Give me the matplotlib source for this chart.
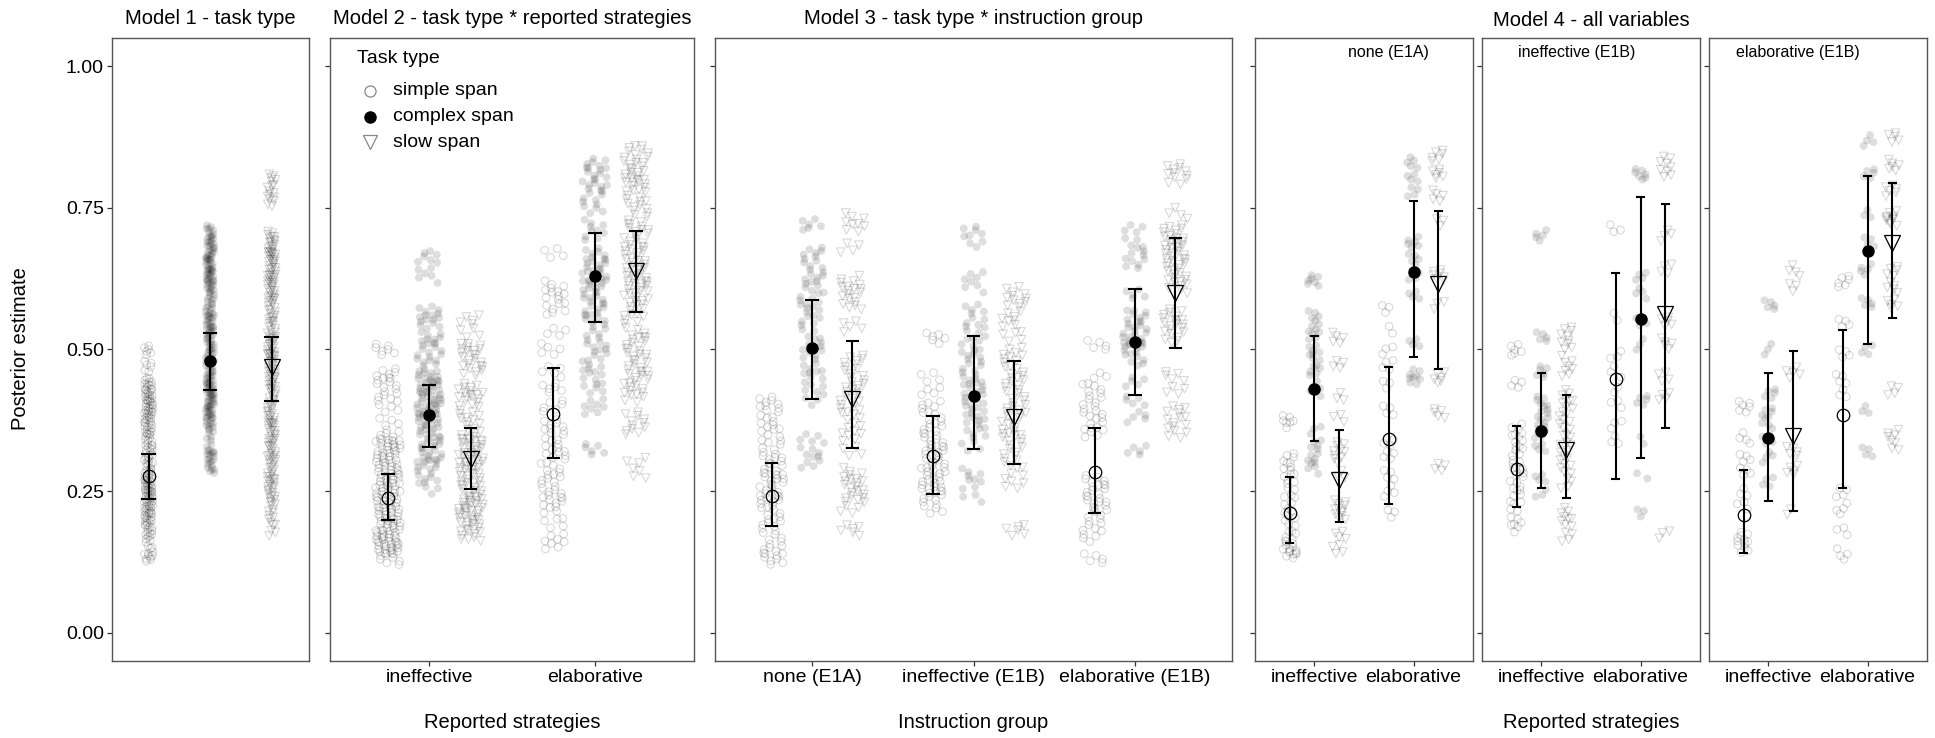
import numpy as np
import matplotlib
matplotlib.use("Agg")
import matplotlib.pyplot as plt

plt.rcParams['font.family'] = ['Liberation Sans', 'DejaVu Sans']

# ---------------- categories ----------------
TASKS = ["simple span", "complex span", "slow span"]
STRATEGIES = ["ineffective", "elaborative"]
GROUPS = ["none (E1A)", "ineffective (E1B)", "elaborative (E1B)"]
Y_TICKS = [0.00, 0.25, 0.50, 0.75, 1.00]
Y_TICK_LABELS = ["0.00", "0.25", "0.50", "0.75", "1.00"]

# ---------------- posterior summaries (mean, lower, upper) ----------------
# rows: simple, complex, slow
M1_MEAN = [0.276, 0.480, 0.469]
M1_LO = [0.236, 0.428, 0.409]
M1_HI = [0.315, 0.528, 0.522]

# rows: task; columns: ineffective, elaborative
M2_MEAN = [[0.238, 0.386], [0.385, 0.630], [0.306, 0.639]]
M2_LO = [[0.198, 0.308], [0.327, 0.549], [0.254, 0.566]]
M2_HI = [[0.280, 0.467], [0.437, 0.706], [0.361, 0.709]]

# rows: task; columns: none, ineffective, elaborative group
M3_MEAN = [[0.241, 0.312, 0.283], [0.502, 0.418, 0.513], [0.413, 0.381, 0.599]]
M3_LO = [[0.189, 0.245, 0.211], [0.412, 0.325, 0.419], [0.326, 0.297, 0.503]]
M3_HI = [[0.299, 0.383, 0.361], [0.587, 0.523, 0.606], [0.515, 0.479, 0.697]]

# Model 4, one block per instruction group; rows: task; columns: strategy
M4_NONE_MEAN = [[0.212, 0.341], [0.430, 0.636], [0.270, 0.616]]
M4_NONE_LO = [[0.159, 0.227], [0.339, 0.487], [0.195, 0.465]]
M4_NONE_HI = [[0.274, 0.469], [0.523, 0.761], [0.358, 0.744]]
M4_INEFF_MEAN = [[0.289, 0.447], [0.356, 0.553], [0.322, 0.563]]
M4_INEFF_LO = [[0.222, 0.271], [0.256, 0.309], [0.237, 0.362]]
M4_INEFF_HI = [[0.365, 0.635], [0.459, 0.768], [0.419, 0.757]]
M4_ELAB_MEAN = [[0.208, 0.384], [0.343, 0.673], [0.347, 0.687]]
M4_ELAB_LO = [[0.140, 0.256], [0.233, 0.509], [0.215, 0.555]]
M4_ELAB_HI = [[0.287, 0.535], [0.458, 0.806], [0.497, 0.794]]

# ---------------- observed scores: (score level, number of observations) ----------------
P1_SIMPLE = [(0.50, 6), (0.47, 6), (0.44, 12), (0.42, 14), (0.40, 14), (0.38, 14), (0.36, 12),
             (0.34, 10), (0.32, 10), (0.30, 10), (0.28, 12), (0.26, 16), (0.24, 16), (0.22, 16),
             (0.20, 14), (0.18, 10), (0.16, 6), (0.14, 6), (0.13, 4)]
P1_COMPLEX = [(0.71, 8), (0.69, 12), (0.67, 12), (0.65, 12), (0.63, 14), (0.61, 12), (0.59, 8),
              (0.57, 10), (0.55, 12), (0.53, 12), (0.51, 10), (0.49, 10), (0.47, 10), (0.45, 12),
              (0.43, 14), (0.41, 14), (0.39, 14), (0.37, 10), (0.35, 6), (0.33, 4), (0.31, 10),
              (0.29, 8)]
P1_SLOW = [(0.80, 6), (0.78, 6), (0.76, 5), (0.70, 8), (0.68, 10), (0.66, 12), (0.64, 10),
           (0.62, 12), (0.60, 10), (0.58, 8), (0.56, 8), (0.54, 8), (0.52, 10), (0.50, 10),
           (0.48, 10), (0.46, 10), (0.44, 10), (0.42, 8), (0.40, 8), (0.38, 10), (0.36, 10),
           (0.34, 10), (0.32, 8), (0.30, 8), (0.28, 8), (0.26, 10), (0.24, 8), (0.22, 6),
           (0.20, 5), (0.18, 4)]

P2_SIMPLE = [
    [(0.50, 7), (0.46, 6), (0.44, 8), (0.42, 6), (0.40, 5), (0.37, 4), (0.35, 8), (0.33, 14),
     (0.31, 14), (0.29, 14), (0.27, 14), (0.25, 14), (0.23, 14), (0.21, 14), (0.19, 14),
     (0.17, 18), (0.15, 18), (0.13, 8)],
    [(0.67, 4), (0.61, 6), (0.59, 6), (0.57, 6), (0.53, 4), (0.50, 5), (0.46, 5), (0.43, 6),
     (0.40, 6), (0.37, 6), (0.35, 6), (0.33, 6), (0.31, 6), (0.29, 6), (0.27, 6), (0.25, 8),
     (0.23, 6), (0.21, 4), (0.19, 4), (0.17, 4), (0.15, 4)]]
P2_COMPLEX = [
    [(0.665, 6), (0.645, 4), (0.625, 3), (0.565, 8), (0.545, 8), (0.52, 8), (0.50, 8), (0.48, 8),
     (0.455, 12), (0.435, 14), (0.415, 14), (0.395, 14), (0.375, 12), (0.355, 10), (0.335, 10),
     (0.315, 10), (0.295, 10), (0.275, 6), (0.255, 4)],
    [(0.83, 6), (0.81, 8), (0.79, 8), (0.77, 6), (0.75, 5), (0.72, 5), (0.70, 5), (0.67, 8),
     (0.65, 8), (0.63, 10), (0.61, 10), (0.59, 8), (0.57, 8), (0.55, 6), (0.53, 6), (0.51, 6),
     (0.49, 6), (0.47, 6), (0.45, 5), (0.43, 5), (0.41, 4), (0.39, 4), (0.325, 6)]]
P2_SLOW = [
    [(0.55, 5), (0.53, 4), (0.50, 10), (0.48, 8), (0.46, 6), (0.43, 10), (0.41, 8), (0.39, 6),
     (0.37, 6), (0.35, 8), (0.33, 12), (0.31, 12), (0.29, 12), (0.27, 10), (0.25, 10),
     (0.23, 14), (0.21, 14), (0.19, 10), (0.17, 8)],
    [(0.85, 8), (0.83, 8), (0.81, 10), (0.79, 8), (0.77, 6), (0.75, 6), (0.73, 6), (0.71, 8),
     (0.69, 8), (0.67, 8), (0.65, 10), (0.63, 10), (0.61, 10), (0.59, 8), (0.57, 6), (0.55, 5),
     (0.53, 5), (0.51, 8), (0.49, 8), (0.47, 8), (0.45, 8), (0.43, 8), (0.41, 4), (0.38, 6),
     (0.36, 6), (0.30, 4), (0.28, 3)]]

P3_SIMPLE = [
    [(0.41, 6), (0.39, 6), (0.37, 6), (0.35, 5), (0.33, 5), (0.31, 8), (0.29, 8), (0.27, 8),
     (0.25, 8), (0.23, 8), (0.21, 6), (0.19, 6), (0.17, 6), (0.15, 6), (0.13, 8)],
    [(0.52, 6), (0.45, 4), (0.43, 4), (0.40, 6), (0.38, 6), (0.36, 6), (0.34, 8), (0.32, 8),
     (0.30, 8), (0.28, 8), (0.26, 10), (0.24, 8), (0.22, 5)],
    [(0.51, 5), (0.45, 4), (0.43, 5), (0.41, 6), (0.39, 6), (0.37, 5), (0.35, 5), (0.27, 6),
     (0.25, 8), (0.23, 8), (0.21, 6), (0.19, 5), (0.17, 5), (0.13, 5)]]
P3_COMPLEX = [
    [(0.72, 6), (0.67, 6), (0.65, 6), (0.63, 6), (0.61, 6), (0.59, 6), (0.57, 6), (0.55, 5),
     (0.53, 4), (0.51, 5), (0.49, 5), (0.47, 5), (0.45, 5), (0.43, 4), (0.41, 4), (0.34, 5),
     (0.32, 5), (0.30, 5)],
    [(0.71, 5), (0.69, 4), (0.63, 4), (0.61, 4), (0.57, 5), (0.55, 5), (0.53, 5), (0.51, 5),
     (0.49, 6), (0.47, 6), (0.45, 6), (0.43, 7), (0.41, 7), (0.39, 7), (0.37, 6), (0.35, 5),
     (0.33, 4), (0.28, 5), (0.26, 4), (0.24, 3)],
    [(0.71, 4), (0.69, 4), (0.67, 5), (0.65, 5), (0.60, 5), (0.56, 8), (0.54, 8), (0.52, 10),
     (0.50, 8), (0.48, 6), (0.44, 5), (0.41, 5), (0.38, 5), (0.32, 5)]]
P3_SLOW = [
    [(0.73, 5), (0.71, 4), (0.68, 4), (0.62, 6), (0.60, 8), (0.58, 6), (0.54, 5), (0.48, 6),
     (0.46, 6), (0.44, 6), (0.42, 6), (0.40, 6), (0.38, 5), (0.36, 4), (0.34, 4), (0.32, 4),
     (0.28, 6), (0.26, 8), (0.24, 8), (0.22, 5), (0.18, 6)],
    [(0.60, 6), (0.58, 6), (0.56, 5), (0.54, 4), (0.52, 4), (0.50, 4), (0.48, 6), (0.46, 6),
     (0.44, 6), (0.42, 6), (0.40, 6), (0.38, 6), (0.36, 6), (0.34, 6), (0.32, 6), (0.30, 5),
     (0.28, 4), (0.26, 4), (0.18, 6)],
    [(0.82, 6), (0.80, 6), (0.74, 4), (0.71, 8), (0.69, 10), (0.67, 10), (0.65, 8), (0.63, 8),
     (0.61, 6), (0.56, 8), (0.54, 8), (0.52, 6), (0.45, 5), (0.43, 4), (0.39, 6), (0.37, 6),
     (0.35, 4)]]

# Model 4 clouds: [group][strategy]
P4_SIMPLE = [
    [[(0.38, 4), (0.365, 3), (0.31, 5), (0.29, 5), (0.27, 5), (0.25, 4), (0.23, 4), (0.21, 4),
      (0.19, 4), (0.17, 5), (0.15, 8), (0.14, 6)],
     [(0.57, 3), (0.53, 2), (0.50, 3), (0.47, 4), (0.44, 3), (0.39, 4), (0.34, 4), (0.31, 4),
      (0.28, 4), (0.25, 4), (0.21, 3)]],
    [[(0.50, 6), (0.44, 4), (0.36, 5), (0.34, 5), (0.32, 5), (0.30, 5), (0.28, 5), (0.26, 5),
      (0.24, 4), (0.22, 4), (0.20, 4), (0.18, 3)],
     [(0.71, 3), (0.56, 2), (0.49, 3), (0.46, 3), (0.43, 2), (0.40, 3), (0.37, 3), (0.34, 3)]],
    [[(0.40, 6), (0.345, 4), (0.31, 4), (0.28, 4), (0.25, 3), (0.22, 3), (0.17, 6), (0.15, 6)],
     [(0.62, 6), (0.55, 4), (0.49, 4), (0.45, 4), (0.42, 3), (0.25, 4), (0.22, 4), (0.18, 3),
      (0.14, 4)]]]
P4_COMPLEX = [
    [[(0.62, 7), (0.56, 4), (0.54, 5), (0.52, 4), (0.50, 5), (0.48, 4), (0.46, 5), (0.44, 3),
      (0.42, 3), (0.36, 3), (0.33, 5), (0.31, 5), (0.29, 4)],
     [(0.83, 5), (0.80, 4), (0.78, 4), (0.69, 6), (0.66, 5), (0.63, 5), (0.60, 4), (0.51, 4),
      (0.46, 5), (0.44, 4)]],
    [[(0.70, 5), (0.52, 5), (0.46, 6), (0.41, 5), (0.39, 5), (0.37, 6), (0.35, 5), (0.33, 4),
      (0.27, 4), (0.25, 3)],
     [(0.81, 7), (0.63, 4), (0.60, 4), (0.55, 3), (0.51, 3), (0.41, 5), (0.335, 2), (0.28, 2),
      (0.21, 3)]],
    [[(0.58, 5), (0.50, 3), (0.42, 5), (0.39, 5), (0.37, 4), (0.34, 4), (0.31, 4), (0.265, 4)],
     [(0.87, 4), (0.81, 5), (0.735, 3), (0.69, 4), (0.64, 5), (0.58, 5), (0.50, 4), (0.39, 3),
      (0.32, 4)]]]
P4_SLOW = [
    [[(0.52, 5), (0.47, 4), (0.42, 3), (0.375, 3), (0.33, 5), (0.31, 5), (0.28, 3), (0.225, 6),
      (0.21, 6), (0.17, 4), (0.15, 4)],
     [(0.84, 6), (0.81, 6), (0.77, 5), (0.72, 3), (0.63, 7), (0.58, 3), (0.45, 6), (0.385, 5),
      (0.295, 4)]],
    [[(0.53, 5), (0.51, 5), (0.48, 4), (0.46, 4), (0.42, 5), (0.40, 5), (0.38, 4), (0.36, 4),
      (0.34, 4), (0.32, 4), (0.30, 4), (0.28, 4), (0.26, 3), (0.21, 5), (0.19, 4), (0.17, 4)],
     [(0.83, 5), (0.81, 4), (0.70, 4), (0.64, 4), (0.55, 5), (0.51, 5), (0.45, 4), (0.42, 4),
      (0.17, 3)]],
    [[(0.64, 4), (0.61, 3), (0.46, 5), (0.32, 5), (0.29, 5), (0.21, 2)],
     [(0.875, 5), (0.825, 6), (0.78, 6), (0.735, 6), (0.725, 5), (0.64, 5), (0.61, 5), (0.58, 5),
      (0.43, 4), (0.35, 5), (0.33, 3)]]]

# ---------------- styling ----------------
W, H = 1935, 738
FS = 14
DODGE = [-0.25, 0.0, 0.25]
RAW_MARKERS = ['o', 'o', 'v']
BORDER = '#555555'

fig = plt.figure(figsize=(W / 100, H / 100), dpi=100)


def add_ax(x0, x1, y0=37.7, y1=661):
    return fig.add_axes([x0 / W, 1 - y1 / H, (x1 - x0) / W, (y1 - y0) / H])


def expand(pairs):
    lv = np.array([p[0] for p in pairs])
    n = np.array([p[1] for p in pairs])
    return np.repeat(lv, n)


def draw_cloud(ax, xc, pairs, task, jw, start):
    y = expand(pairs)
    i = np.arange(len(y)) + start
    # quasi-uniform visual jitter (positions only)
    jx = ((0.5 + i * 0.7548776662) % 1.0) * 2 - 1
    jy = ((0.5 + i * 0.5698402910) % 1.0) * 2 - 1
    xs = xc + jx * jw
    ys = y + jy * 0.011
    if task == 1:
        ax.scatter(xs, ys, s=32, marker='o', facecolor=(0, 0, 0, 0.13), edgecolor='none',
                   zorder=2)
    else:
        ax.scatter(xs, ys, s=30 if task == 0 else 38, marker=RAW_MARKERS[task],
                   facecolor='none', edgecolor=(0, 0, 0, 0.15), linewidths=0.8, zorder=2)


def draw_summary(ax, xc, task, m, lo, hi, cap):
    ax.plot([xc, xc], [lo, hi], color='black', lw=1.5, zorder=4, solid_capstyle='butt')
    ax.plot([xc - cap, xc + cap], [lo, lo], color='black', lw=1.5, zorder=4)
    ax.plot([xc - cap, xc + cap], [hi, hi], color='black', lw=1.5, zorder=4)
    if task == 0:
        ax.plot([xc], [m], marker='o', ms=9, mfc='none', mec='black', mew=0.9, zorder=5)
    elif task == 1:
        ax.plot([xc], [m], marker='o', ms=8, mfc='black', mec='black', zorder=5)
    else:
        ax.plot([xc], [m], marker='v', ms=11.5, mfc='none', mec='black', mew=0.9, zorder=5)


def style_ax(ax, xlim, xticks=None, xlabels=None, ylabels=False):
    ax.set_xlim(*xlim)
    ax.set_ylim(-0.05, 1.05)
    ax.set_yticks(Y_TICKS)
    if ylabels:
        ax.set_yticklabels(Y_TICK_LABELS, fontsize=FS)
    else:
        ax.set_yticklabels([])
    if xticks is None:
        ax.set_xticks([])
    else:
        ax.set_xticks(xticks)
        ax.set_xticklabels(xlabels, fontsize=FS)
    ax.tick_params(axis='both', length=3.5, width=0.9, color='#333333', pad=2,
                   labelcolor='black')
    for sp in ax.spines.values():
        sp.set_color(BORDER)
        sp.set_linewidth(1.0)


# ---------------- Model 1 ----------------
ax1 = add_ax(111.6, 308.5)
for t, pairs in enumerate([P1_SIMPLE, P1_COMPLEX, P1_SLOW]):
    draw_cloud(ax1, 1 + DODGE[t], pairs, t, 0.017, t * 997)
for t in range(3):
    draw_summary(ax1, 1 + DODGE[t], t, M1_MEAN[t], M1_LO[t], M1_HI[t], 0.025)
style_ax(ax1, (0.6, 1.4), ylabels=True)

# ---------------- Model 2 ----------------
ax2 = add_ax(330, 694)
for t, grp in enumerate([P2_SIMPLE, P2_COMPLEX, P2_SLOW]):
    for s in range(2):
        draw_cloud(ax2, 1 + s + DODGE[t], grp[s], t, 0.075, t * 571 + s * 131)
for t in range(3):
    for s in range(2):
        draw_summary(ax2, 1 + s + DODGE[t], t, M2_MEAN[t][s], M2_LO[t][s], M2_HI[t][s], 0.035)
style_ax(ax2, (0.4, 2.6), [1, 2], STRATEGIES)

# legend
ax2.text(0.074, 0.967, "Task type", transform=ax2.transAxes, fontsize=FS, ha='left',
         va='center')
leg_y = [0.915, 0.873, 0.832]
leg_style = [dict(marker='o', ms=8, mfc='none', mec='#888888', mew=0.9),
             dict(marker='o', ms=8, mfc='black', mec='black'),
             dict(marker='v', ms=10, mfc='none', mec='#888888', mew=0.9)]
for t in range(3):
    ax2.plot([0.11], [leg_y[t]], transform=ax2.transAxes, clip_on=False, **leg_style[t])
    ax2.text(0.173, leg_y[t], TASKS[t], transform=ax2.transAxes, fontsize=FS, ha='left',
             va='center')

# ---------------- Model 3 ----------------
ax3 = add_ax(715, 1232)
for t, grp in enumerate([P3_SIMPLE, P3_COMPLEX, P3_SLOW]):
    for g in range(3):
        draw_cloud(ax3, 1 + g + DODGE[t], grp[g], t, 0.075, t * 433 + g * 97)
for t in range(3):
    for g in range(3):
        draw_summary(ax3, 1 + g + DODGE[t], t, M3_MEAN[t][g], M3_LO[t][g], M3_HI[t][g], 0.035)
style_ax(ax3, (0.4, 3.6), [1, 2, 3], GROUPS)

# ---------------- Model 4 ----------------
P4_X = [(1255, 1473), (1482, 1700), (1709, 1927)]
M4_MEAN = [M4_NONE_MEAN, M4_INEFF_MEAN, M4_ELAB_MEAN]
M4_LO = [M4_NONE_LO, M4_INEFF_LO, M4_ELAB_LO]
M4_HI = [M4_NONE_HI, M4_INEFF_HI, M4_ELAB_HI]
STRIP_X = [1388, 1577, 1798]
for g in range(3):
    ax = add_ax(*P4_X[g])
    for t, grp in enumerate([P4_SIMPLE, P4_COMPLEX, P4_SLOW]):
        for s in range(2):
            draw_cloud(ax, 1 + s + DODGE[t], grp[g][s], t, 0.068, t * 311 + s * 53 + g * 17)
    for t in range(3):
        for s in range(2):
            draw_summary(ax, 1 + s + DODGE[t], t, M4_MEAN[g][t][s], M4_LO[g][t][s],
                         M4_HI[g][t][s], 0.035)
    style_ax(ax, (0.4, 2.6), [1, 2], STRATEGIES)
    fig.text(STRIP_X[g] / W, 1 - 53 / H, GROUPS[g], fontsize=11.5, ha='center', va='center')

# ---------------- titles & axis labels ----------------
fig.text(210 / W, 1 - 19 / H, "Model 1 - task type", fontsize=14.5, ha='center', va='center')
fig.text(512 / W, 1 - 19 / H, "Model 2 - task type * reported strategies", fontsize=14.5,
         ha='center', va='center')
fig.text(973 / W, 1 - 19 / H, "Model 3 - task type * instruction group", fontsize=14.5,
         ha='center', va='center')
fig.text(1591 / W, 1 - 21 / H, "Model 4 - all variables", fontsize=14.5, ha='center',
         va='center')
fig.text(20 / W, 1 - 349 / H, "Posterior estimate", fontsize=FS + 0.5, rotation=90,
         ha='center', va='center')
fig.text(512 / W, 1 - 723 / H, "Reported strategies", fontsize=FS + 0.5, ha='center',
         va='center')
fig.text(973 / W, 1 - 723 / H, "Instruction group", fontsize=FS + 0.5, ha='center',
         va='center')
fig.text(1591 / W, 1 - 723 / H, "Reported strategies", fontsize=FS + 0.5, ha='center',
         va='center')

fig.savefig("out.png", dpi=100, facecolor='white')
